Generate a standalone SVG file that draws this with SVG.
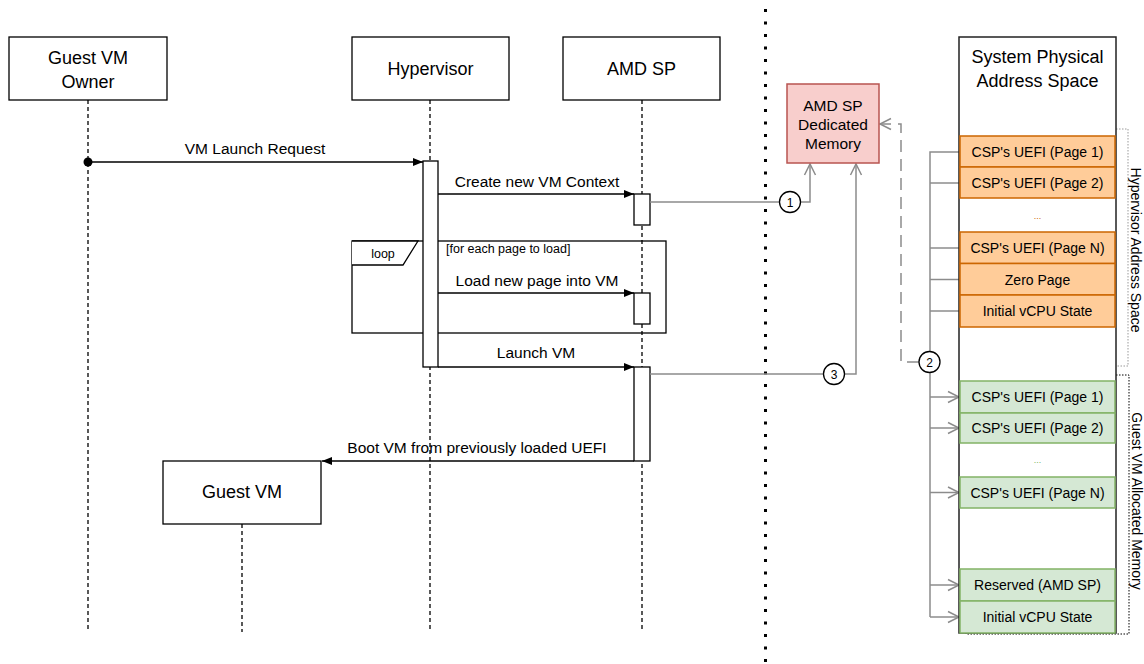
<svg xmlns="http://www.w3.org/2000/svg" width="1144" height="664" viewBox="0 0 1144 664">
<style>
text{font-family:"Liberation Sans",Arial,sans-serif;fill:#000;dominant-baseline:central;text-anchor:middle}
.part{fill:#fff;stroke:#000;stroke-width:1.3}
.pt{font-size:18px}
.life{stroke:#000;stroke-width:1.3;stroke-dasharray:4 3;fill:none}
.act{fill:#fff;stroke:#000;stroke-width:1.3}
.msg{stroke:#000;stroke-width:1.3;fill:none}
.mt{font-size:15.5px}
.gl{stroke:#8c8c8c;stroke-width:1.5;fill:none}
.circ{fill:#fff;stroke:#000;stroke-width:1.3}
.ct{font-size:12px}
.or{fill:#ffcc99;stroke:#cc6600;stroke-width:1.5}
.gr{fill:#d5e8d4;stroke:#82b366;stroke-width:1.5}
.rt{font-size:14px}
</style>
<defs>
<marker id="block" viewBox="0 0 10 8" refX="10" refY="4" markerWidth="10" markerHeight="8" markerUnits="userSpaceOnUse" orient="auto">
<path d="M0,0 L10,4 L0,8 z" fill="#000"/>
</marker>
<marker id="dot" viewBox="0 0 10 10" refX="5" refY="5" markerWidth="10" markerHeight="10" markerUnits="userSpaceOnUse" orient="auto">
<circle cx="5" cy="5" r="4.5" fill="#000"/>
</marker>
<marker id="open" viewBox="0 0 12 12" refX="11" refY="6" markerWidth="12" markerHeight="12" markerUnits="userSpaceOnUse" orient="auto" overflow="visible">
<path d="M0,0.5 L11,6 L0,11.5" fill="none" stroke="#8c8c8c" stroke-width="1.5"/>
</marker>
</defs>
<rect width="1144" height="664" fill="#fff"/>

<!-- separator -->
<line x1="765.5" y1="9" x2="765.5" y2="664" stroke="#000" stroke-width="3" stroke-dasharray="3 9.5"/>

<!-- lifelines -->
<g id="lifelines">
<line class="life" x1="88" y1="100" x2="88" y2="632"/>
<line class="life" x1="430" y1="100" x2="430" y2="632"/>
<line class="life" x1="642" y1="100" x2="642" y2="632"/>
<line class="life" x1="242" y1="524" x2="242" y2="632"/>
</g>

<g id="guest-vm-owner">
<rect class="part" x="9" y="37" width="158" height="63"/>
<text class="pt" x="88" y="58">Guest VM</text>
<text class="pt" x="88" y="82">Owner</text>
</g>
<g id="hypervisor">
<rect class="part" x="352" y="37" width="157" height="63"/>
<text class="pt" x="430.5" y="69">Hypervisor</text>
</g>
<g id="amd-sp">
<rect class="part" x="563" y="37" width="157" height="63"/>
<text class="pt" x="641.5" y="69">AMD SP</text>
</g>
<g id="guest-vm">
<rect class="part" x="163" y="461" width="158" height="63"/>
<text class="pt" x="242" y="492">Guest VM</text>
</g>

<g id="loop-frame">
<rect x="352" y="241" width="314" height="92" fill="none" stroke="#000" stroke-width="1.3"/>
<path d="M352,241 H418 L403,265 H352" fill="#fff" stroke="#000" stroke-width="1.3"/>
<text x="383" y="254" style="font-size:12.5px">loop</text>
<text x="446" y="249" style="font-size:12.5px;text-anchor:start">[for each page to load]</text>
</g>

<g id="activations">
<rect class="act" x="423" y="161" width="15" height="206"/>
<rect class="act" x="634" y="194" width="16" height="31"/>
<rect class="act" x="634" y="293" width="16" height="31"/>
<rect class="act" x="634" y="367" width="16" height="94"/>
</g>

<g id="connectors">
<line class="msg" x1="88" y1="162" x2="423" y2="162" marker-start="url(#dot)" marker-end="url(#block)"/>
<text class="mt" x="255" y="148">VM Launch Request</text>
<line class="msg" x1="438" y1="194" x2="634" y2="194" marker-end="url(#block)"/>
<text class="mt" x="537" y="181">Create new VM Context</text>
<line class="msg" x1="438" y1="293" x2="634" y2="293" marker-end="url(#block)"/>
<text class="mt" x="537" y="280">Load new page into VM</text>
<line class="msg" x1="438" y1="367" x2="634" y2="367" marker-end="url(#block)"/>
<text class="mt" x="536" y="352">Launch VM</text>
<line class="msg" x1="634" y1="461" x2="322" y2="461" marker-end="url(#block)"/>
<text class="mt" x="477" y="447">Boot VM from previously loaded UEFI</text>

<path class="gl" d="M650,202 H810 V164" marker-end="url(#open)"/>
<path class="gl" d="M650,374 H856 V164" marker-end="url(#open)"/>
<path class="gl" d="M919,362 H901 V124 H880" stroke-dasharray="12 7" marker-end="url(#open)"/>
<path class="gl" d="M960,152 H930 V617"/>
<line class="gl" x1="930" y1="183" x2="960" y2="183"/>
<line class="gl" x1="930" y1="248" x2="960" y2="248"/>
<line class="gl" x1="930" y1="279.5" x2="960" y2="279.5"/>
<line class="gl" x1="930" y1="311" x2="960" y2="311"/>
<line class="gl" x1="930" y1="397" x2="959" y2="397" marker-end="url(#open)"/>
<line class="gl" x1="930" y1="428" x2="959" y2="428" marker-end="url(#open)"/>
<line class="gl" x1="930" y1="492.5" x2="959" y2="492.5" marker-end="url(#open)"/>
<line class="gl" x1="930" y1="585" x2="959" y2="585" marker-end="url(#open)"/>
<line class="gl" x1="930" y1="617" x2="959" y2="617" marker-end="url(#open)"/>
<circle class="circ" cx="790" cy="202" r="10.5"/>
<text class="ct" x="790" y="202.5">1</text>
<circle class="circ" cx="929.5" cy="362" r="10.5"/>
<text class="ct" x="929.5" y="362.5">2</text>
<circle class="circ" cx="834" cy="374" r="10.5"/>
<text class="ct" x="834" y="374.5">3</text>
</g>

<g id="amd-sp-dedicated-memory">
<rect x="787" y="84" width="92" height="79" fill="#f8cecc" stroke="#b85450" stroke-width="1.5"/>
<text x="833" y="105" style="font-size:15.5px">AMD SP</text>
<text x="833" y="124" style="font-size:15.5px">Dedicated</text>
<text x="833" y="143" style="font-size:15.5px">Memory</text>
</g>

<g id="address-brackets">
<path d="M1116,129 H1128 V366 H1116" fill="none" stroke="#999" stroke-width="1" stroke-dasharray="1.5 1.5"/>
<rect x="966" y="375" width="163" height="259" fill="none" stroke="#000" stroke-width="1" stroke-dasharray="1.5 1.5"/>
<text transform="translate(1136,250) rotate(90)" style="font-size:14px">Hypervisor Address Space</text>
<text transform="translate(1137,501) rotate(90)" style="font-size:14px">Guest VM Allocated Memory</text>
</g>

<g id="system-physical-address-space">
<rect x="959" y="37" width="157" height="596" fill="#fff" stroke="#222" stroke-width="1.5"/>
<text class="pt" x="1037.5" y="57">System Physical</text>
<text class="pt" x="1037.5" y="81">Address Space</text>
</g>

<g id="hv-rows">
<rect class="or" x="960" y="136" width="155" height="31"/>
<text class="rt" x="1037.5" y="152">CSP's UEFI (Page 1)</text>
<rect class="or" x="960" y="167" width="155" height="31"/>
<text class="rt" x="1037.5" y="183">CSP's UEFI (Page 2)</text>
<text x="1037.5" y="216" style="font-size:9px;fill:#cc6600">...</text>
<rect class="or" x="960" y="232" width="155" height="31.5"/>
<text class="rt" x="1037.5" y="248">CSP's UEFI (Page N)</text>
<rect class="or" x="960" y="263.5" width="155" height="31.5"/>
<text class="rt" x="1037.5" y="279.5">Zero Page</text>
<rect class="or" x="960" y="295" width="155" height="32"/>
<text class="rt" x="1037.5" y="311">Initial vCPU State</text>
</g>

<g id="guest-rows">
<rect class="gr" x="960" y="381" width="155" height="32"/>
<text class="rt" x="1037.5" y="397">CSP's UEFI (Page 1)</text>
<rect class="gr" x="960" y="413" width="155" height="30"/>
<text class="rt" x="1037.5" y="428">CSP's UEFI (Page 2)</text>
<text x="1037.5" y="460" style="font-size:9px;fill:#82b366">...</text>
<rect class="gr" x="960" y="477" width="155" height="31"/>
<text class="rt" x="1037.5" y="492.5">CSP's UEFI (Page N)</text>
<rect class="gr" x="960" y="569" width="155" height="32"/>
<text class="rt" x="1037.5" y="585">Reserved (AMD SP)</text>
<rect class="gr" x="960" y="601" width="155" height="32"/>
<text class="rt" x="1037.5" y="617">Initial vCPU State</text>
</g>
</svg>
